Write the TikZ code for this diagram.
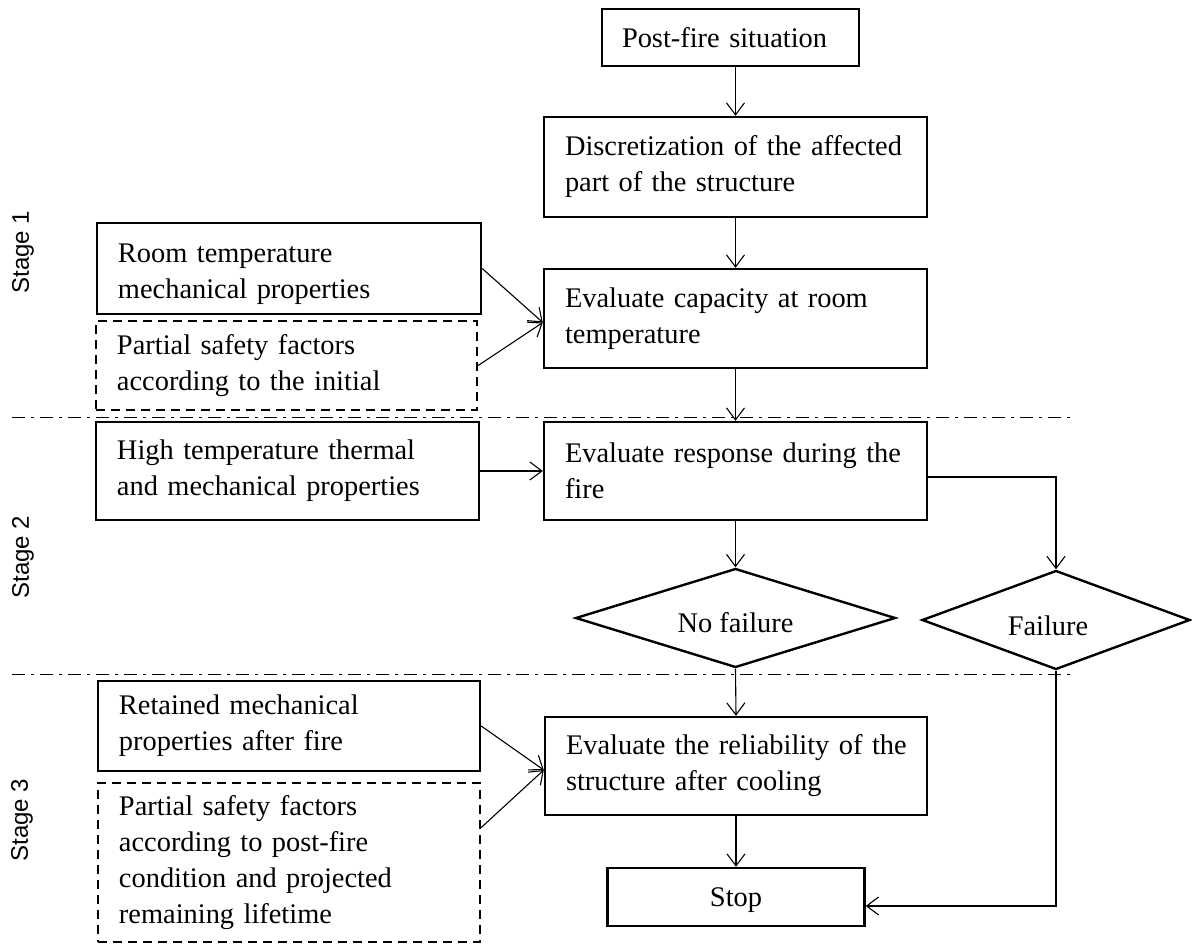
\documentclass[tikz,border=0pt]{standalone}
\usepackage{fontspec}
\setmainfont{Liberation Serif}
\newfontfamily\stagefont{Liberation Sans}
\usetikzlibrary{arrows.meta,shapes.geometric}
\newcommand\tline[1]{\mbox{#1}}
\begin{document}
\begin{tikzpicture}[x=1bp,y=-1bp,
  txt/.style={font=\fontsize{28.4bp}{36bp}\selectfont},
  box/.style={txt, draw, line width=2.4bp, rectangle, inner xsep=21bp, inner ysep=0pt, align=left},
  dbox/.style={box, dash pattern=on 9bp off 6bp},
  cbox/.style={txt, draw, line width=2.4bp, rectangle, inner sep=0pt, align=center},
  dec/.style={txt, draw, diamond, line width=2.4bp, inner sep=0pt, shape aspect=3.2},
  arr/.style={line width=1.1bp, -{Straight Barb[length=12bp,width=18bp]}},
  sepline/.style={line width=1bp, dash pattern=on 13bp off 6bp on 3bp off 6bp},
  stagelbl/.style={rotate=90, inner sep=0pt, font=\stagefont\fontsize{24bp}{28bp}\selectfont}
]
\useasboundingbox (0,0) rectangle (1192,944);

% stage separators
\coordinate (s1a) at (12,417);
\coordinate (s1b) at (1072,417);
\coordinate (s2a) at (12,674);
\coordinate (s2b) at (1072,674);
\draw[sepline] (s1a) -- (s1b);
\draw[sepline] (s2a) -- (s2b);

% stage labels
\node[stagelbl] (st1) at (23,252) {Stage 1};
\node[stagelbl] (st2) at (23,557) {Stage 2};
\node[stagelbl] (st3) at (22,820) {Stage 3};

% main column
\node[box, inner xsep=20bp, minimum width=257bp, text width=217bp, minimum height=57bp] (post) at (730.5,37.5) {\tline{Post-fire situation}};
\node[box, minimum width=383bp, text width=341bp, minimum height=100bp] (disc) at (735.5,167) {\tline{Discretization of the affected}\\\tline{part of the structure}};
\node[box, minimum width=383bp, text width=341bp, minimum height=99bp] (cap) at (735.5,318.5) {\tline{Evaluate capacity at room}\\\tline{temperature}};
\node[box, minimum width=383bp, text width=341bp, minimum height=98bp] (resp) at (735.5,471) {\tline{Evaluate response during the}\\\tline{fire}};
\node[dec, text height=28bp, text depth=0bp, minimum width=320bp, minimum height=99bp] (nofail) at (735.5,618) {No failure};
\node[dec, text height=30bp, text depth=0bp, minimum width=268bp, minimum height=99bp] (fail) at (1056,620) {\hspace*{-16bp}Failure};
\node[box, minimum width=382bp, text width=340bp, minimum height=98bp] (rel) at (736,766) {\tline{Evaluate the reliability of the}\\\tline{structure after cooling}};
\node[cbox, text height=26bp, minimum width=257bp, minimum height=58bp] (stop) at (736,897) {Stop};

% left column
\node[box, text height=30bp, minimum width=384bp, text width=342bp, minimum height=91bp] (room) at (289,268.5) {\tline{Room temperature}\\\tline{mechanical properties}};
\node[dbox, minimum width=381bp, text width=339bp, minimum height=89bp] (psfa) at (286.5,365.5) {\tline{Partial safety factors}\\\tline{according to the initial}};
\node[box, minimum width=383bp, text width=341bp, minimum height=98bp] (high) at (287.5,471) {\tline{High temperature thermal}\\\tline{and mechanical properties}};
\node[box, minimum width=382bp, text width=340bp, minimum height=90bp] (ret) at (289,726) {\tline{Retained mechanical}\\\tline{properties after fire}};
\node[dbox, minimum width=382bp, text width=340bp, minimum height=159bp] (psfb) at (289,862.5) {\tline{Partial safety factors}\\\tline{according to post-fire}\\\tline{condition and projected}\\\tline{remaining lifetime}};

% connectors
\draw[arr] (disc.north |- post.south) -- (disc.north);
\draw[arr] (disc.south) -- (cap.north);
\draw[arr] (room.east) -- ([yshift=-4bp]cap.west);
\draw[arr] (psfa.east) -- ([yshift=-4bp]cap.west);
\draw[arr] (cap.south) -- (resp.north);
\draw[arr] (high.east) -- (resp.west);
\draw[arr] (resp.south) -- (nofail.north);
\draw[arr] ([yshift=-6bp]resp.east) -| (fail.north);
\draw[arr] (nofail.south) -- (rel.north);
\draw[arr] (ret.east) -- ([yshift=-4bp]rel.west);
\draw[arr] ([yshift=35bp]psfb.east) -- ([yshift=-4bp]rel.west);
\draw[arr] (rel.south) -- (stop.north);
\draw[arr] (fail.south) |- ([yshift=-9bp]stop.east);
\end{tikzpicture}
\end{document}
